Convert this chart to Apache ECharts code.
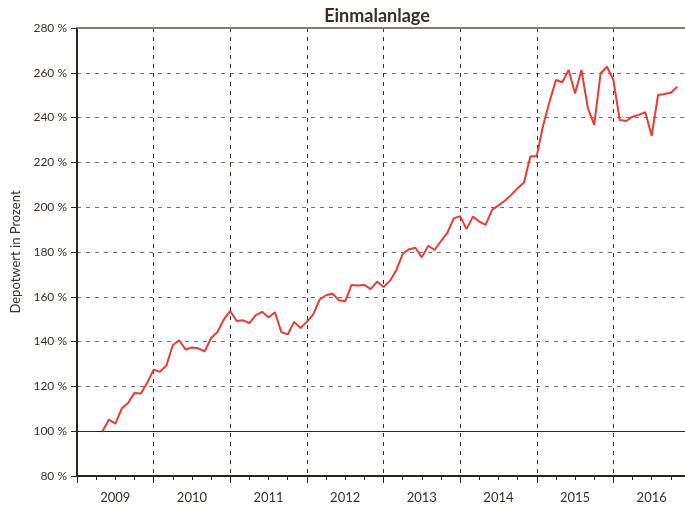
<!DOCTYPE html>
<html>
<head>
<meta charset="utf-8">
<script src="https://cdn.jsdelivr.net/npm/echarts@6/dist/echarts.min.js"></script>
<style>html,body{margin:0;padding:0;background:#fff}#c{width:685px;height:505px}</style>
</head>
<body>
<div id="c"></div>
<script>
// Monthly values (month-end), starting April 2009
const startYear = 2009;
const startMonth = 4;
const values2009 = [100, 105.2, 103.4, 110.1, 112.6, 117.1, 116.8, 121.6, 127.5];
const values2010 = [126.5, 129.3, 138.4, 140.6, 136.5, 137.4, 137.0, 135.7, 141.6, 144.3, 149.9, 153.7];
const values2011 = [149.2, 149.5, 148.3, 151.8, 153.3, 150.8, 153.1, 144.3, 143.2, 148.8, 146.1, 148.8];
const values2012 = [152.2, 158.8, 160.7, 161.5, 158.5, 158.0, 165.3, 165.0, 165.3, 163.4, 166.8, 164.4];
const values2013 = [167.1, 171.9, 179.1, 181.2, 181.9, 177.6, 182.8, 180.9, 184.9, 188.6, 195.0, 196.0];
const values2014 = [190.2, 195.8, 193.6, 192.1, 198.8, 200.8, 202.9, 205.5, 208.5, 211.0, 222.6, 222.9];
const values2015 = [236.5, 247.1, 256.8, 255.8, 261.3, 250.8, 261.3, 244.4, 236.7, 259.8, 262.7, 256.8];
const values2016 = [238.9, 238.5, 240.4, 241.2, 242.4, 231.9, 250.1, 250.5, 251.1, 253.8];
const yearLabels = ['2009', '2010', '2011', '2012', '2013', '2014', '2015', '2016'];
const yTicks = [80, 100, 120, 140, 160, 180, 200, 220, 240, 260, 280];

const allValues = [].concat(values2009, values2010, values2011, values2012, values2013, values2014, values2015, values2016);
const seriesData = allValues.map((v, i) => {
  const mIdx = (startMonth - 1) + i; // months since Jan of startYear
  const year = startYear + Math.floor(mIdx / 12);
  const month = (mIdx % 12) + 1;
  return [year + month / 12, v];
});

const dark = '#2b221b';
const textColor = '#3b2f27';
const font = 'Lato';

const chart = echarts.init(document.getElementById('c'), null, {renderer: 'canvas'});
const xMin = 2009, xMax = 2017;
chart.setOption({
  animation: false,
  backgroundColor: '#fff',
  title: {
    text: 'Einmalanlage',
    left: 372, top: 2, textAlign: 'center',
    textStyle: {fontFamily: font, fontSize: 18, fontWeight: 'bold', color: textColor}
  },
  grid: {left: 77, top: 28, width: 613, height: 448, containLabel: false, outerBoundsMode: 'none'},
  xAxis: [
    { // data axis with quarterly ticks
      type: 'value', min: xMin, max: xMax, interval: 0.25, position: 'bottom',
      axisLine: {show: true, lineStyle: {color: dark, width: 2}},
      axisTick: {show: true, length: 4, lineStyle: {color: dark, width: 1}},
      axisLabel: {show: false}, splitLine: {show: false}
    },
    { // yearly split lines and longer ticks
      type: 'value', min: xMin, max: xMax, interval: 1, position: 'bottom',
      axisLine: {show: false},
      axisTick: {show: true, length: 7, lineStyle: {color: dark, width: 1}},
      axisLabel: {show: false},
      splitLine: {show: true, lineStyle: {color: '#3b3129', width: 1, type: [4, 5]}}
    },
    { // year labels at mid-year
      type: 'value', min: xMin, max: xMax, interval: 0.5, position: 'bottom',
      axisLine: {show: false}, axisTick: {show: false}, splitLine: {show: false},
      axisLabel: {
        show: true, margin: 15, fontFamily: font, fontSize: 13, color: textColor,
        formatter: v => {
          const f = Math.round((v - Math.floor(v)) * 100);
          if (f !== 50) return '';
          const idx = Math.floor(v) - 2009;
          return yearLabels[idx] || '';
        }
      }
    },
    { // top border
      type: 'value', min: xMin, max: xMax, position: 'top',
      axisLine: {show: true, lineStyle: {color: '#857b72', width: 2}},
      axisTick: {show: false}, axisLabel: {show: false}, splitLine: {show: false}
    }
  ],
  yAxis: {
    type: 'value', min: yTicks[0], max: yTicks[yTicks.length - 1], interval: 20,
    name: 'Depotwert in Prozent', nameLocation: 'middle', nameGap: 51,
    nameTextStyle: {fontFamily: font, fontSize: 13, color: textColor},
    axisLine: {show: true, lineStyle: {color: dark, width: 2}},
    axisTick: {show: true, length: 6, lineStyle: {color: dark}},
    axisLabel: {margin: 10, fontFamily: font, fontSize: 12, color: textColor, formatter: '{value} %'},
    splitLine: {show: true, lineStyle: {color: '#7a7068', width: 1, type: [4, 5]}}
  },
  series: [{
    type: 'line', xAxisIndex: 0, data: seriesData, showSymbol: false,
    lineStyle: {color: '#ee3a31', width: 2}, z: 5,
    markLine: {
      silent: true, symbol: 'none', label: {show: false},
      lineStyle: {color: dark, width: 1, type: 'solid'},
      data: [{yAxis: 100}], z: 3
    }
  }]
});
</script>
</body>
</html>
